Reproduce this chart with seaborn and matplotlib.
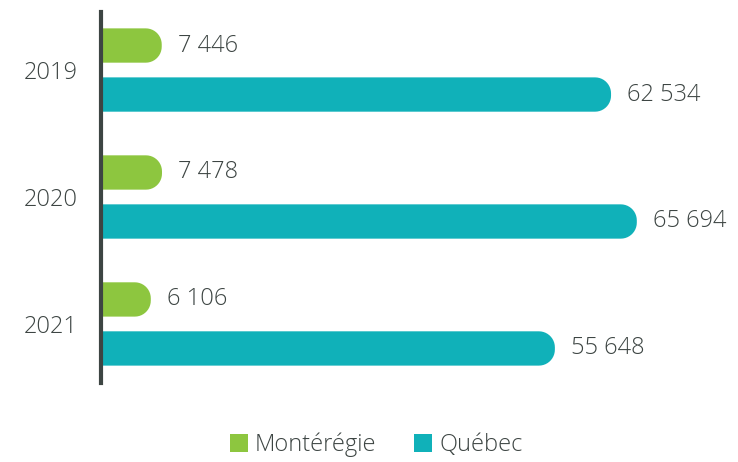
import pandas as pd
import numpy as np
import matplotlib
matplotlib.use("Agg")
import matplotlib.pyplot as plt
import seaborn as sns
from matplotlib.patches import PathPatch, Patch
from matplotlib.path import Path

years = ["2019", "2020", "2021"]
monteregie = [7446, 7478, 6106]
quebec = [62534, 65694, 55648]
series = ["Montérégie", "Québec"]
colors = ["#8DC63F", "#10B1B9"]
text_color = "#3D4543"

df = pd.DataFrame({
    "annee": years * 2,
    "region": [series[0]] * 3 + [series[1]] * 3,
    "valeur": monteregie + quebec,
})

sns.set_style("white")
plt.rcParams["font.family"] = ["Open Sans", "DejaVu Sans"]
plt.rcParams["font.weight"] = "light"

fig = plt.figure(figsize=(7.38, 4.62), dpi=100)
ax = fig.add_axes([101 / 738, (462 - 383) / 462, 637 / 738, 371 / 462])

sns.barplot(data=df, y="annee", x="valeur", hue="region", orient="h",
            palette=colors, width=0.772, gap=0.3, legend=False, ax=ax,
            saturation=1)

ax.set_xlim(0, 78100)
ax.set_ylim(2.465, -0.457)

# replace each bar by a shape with a rounded right end
fig.canvas.draw()
px_x = ax.transData.transform((1, 0))[0] - ax.transData.transform((0, 0))[0]
px_y = abs(ax.transData.transform((0, 1))[1] - ax.transData.transform((0, 0))[1])
rad_px = 16
t = np.linspace(0, np.pi / 2, 12)
for p in list(ax.patches):
    x0, y0 = p.get_x(), p.get_y()
    w, h = p.get_width(), p.get_height()
    if w <= 0:
        continue
    c = p.get_facecolor()
    p.set_visible(False)
    rx = rad_px / px_x
    ry = min(rad_px / px_y, h / 2)
    x1, y1 = x0 + w, y0 + h
    top_arc = [(x1 - rx + rx * np.sin(a), y0 + ry - ry * np.cos(a)) for a in t]
    bot_arc = [(x1 - rx + rx * np.cos(a), y1 - ry + ry * np.sin(a)) for a in t]
    verts = [(x0, y0)] + top_arc + bot_arc + [(x0, y1), (x0, y0)]
    codes = [Path.MOVETO] + [Path.LINETO] * (len(verts) - 2) + [Path.CLOSEPOLY]
    ax.add_patch(PathPatch(Path(verts, codes), fc=c, ec="none", zorder=2))
    lab = f"{int(w):,}".replace(",", " ")
    ax.text(x1 + 16 / px_x, y0 + h / 2, lab, va="center", ha="left",
            fontsize=17, color=text_color, fontweight="light")

sns.despine(ax=ax, left=False, bottom=True, top=True, right=True)
ax.spines["left"].set_color(text_color)
ax.spines["left"].set_linewidth(3)
ax.spines["left"].set_zorder(3)
ax.set_xticks([])
ax.set_xlabel("")
ax.set_ylabel("")
ax.tick_params(axis="y", length=0, pad=17, labelsize=17, labelcolor=text_color)

handles = [Patch(fc=col, ec="none") for col in colors]
fig.legend(handles, series, loc="center", bbox_to_anchor=(0.51, 1 - 445 / 462),
           ncol=2, frameon=False, fontsize=17, handlelength=0.75, handleheight=0.75,
           handletextpad=0.3, columnspacing=1.6, labelcolor=text_color)

fig.savefig("out.png", dpi=100)
